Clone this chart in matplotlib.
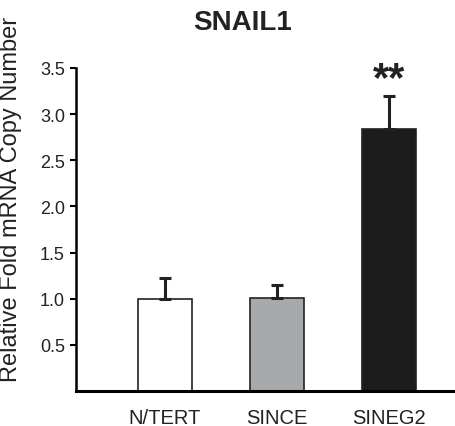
import matplotlib
matplotlib.use("Agg")
import matplotlib.pyplot as plt

plt.rcParams['font.family'] = ['Liberation Sans', 'DejaVu Sans']

groups = ['N/TERT', 'SINCE', 'SINEG2']
values = [1.00, 1.01, 2.84]
errors = [0.22, 0.14, 0.35]
colors = ['#ffffff', '#a8a9ac', '#1c1c1c']
yticks = [0.5, 1.0, 1.5, 2.0, 2.5, 3.0, 3.5]

fig = plt.figure(figsize=(4.55, 4.27), dpi=100)
ax = fig.add_axes([76 / 455, 35 / 427, 379 / 455, 325 / 427])

x = [0, 1, 2]
ax.bar(x, values, width=0.48, color=colors, edgecolor='#222222', linewidth=1.2,
       yerr=[[0, 0, 0], errors], error_kw=dict(ecolor='#222222', elinewidth=2.2,
                                               capsize=4, capthick=2.2))
ax.text(2, values[2] + errors[2] - 0.03, '**', ha='center', va='bottom',
        fontsize=30, fontweight='bold', color='#222222')

ax.set_xlim(-0.795, 2.589)
ax.set_ylim(0, 3.52)
ax.set_yticks(yticks)
ax.set_yticklabels([f'{t:.1f}' for t in yticks], fontsize=13, color='#222222')
ax.set_xticks(x)
ax.set_xticklabels(groups, fontsize=14.5, color='#222222')
ax.tick_params(axis='x', length=0, pad=12)
ax.tick_params(axis='y', length=4, width=1.5, pad=4)
for side in ['top', 'right']:
    ax.spines[side].set_visible(False)
ax.spines['left'].set_linewidth(1.8)
ax.spines['bottom'].set_linewidth(2.2)
ax.spines['left'].set_bounds(0, 3.5)

fig.text(11 / 455, 1 - 199 / 427, 'Relative Fold mRNA Copy Number', rotation=90,
         ha='center', va='center', fontsize=17, color='#222222')

fig.text(243 / 455, 1 - 23 / 427, 'SNAIL1', ha='center', va='center',
         fontsize=20, fontweight='bold', color='#222222')

fig.savefig('out.png', dpi=100)
